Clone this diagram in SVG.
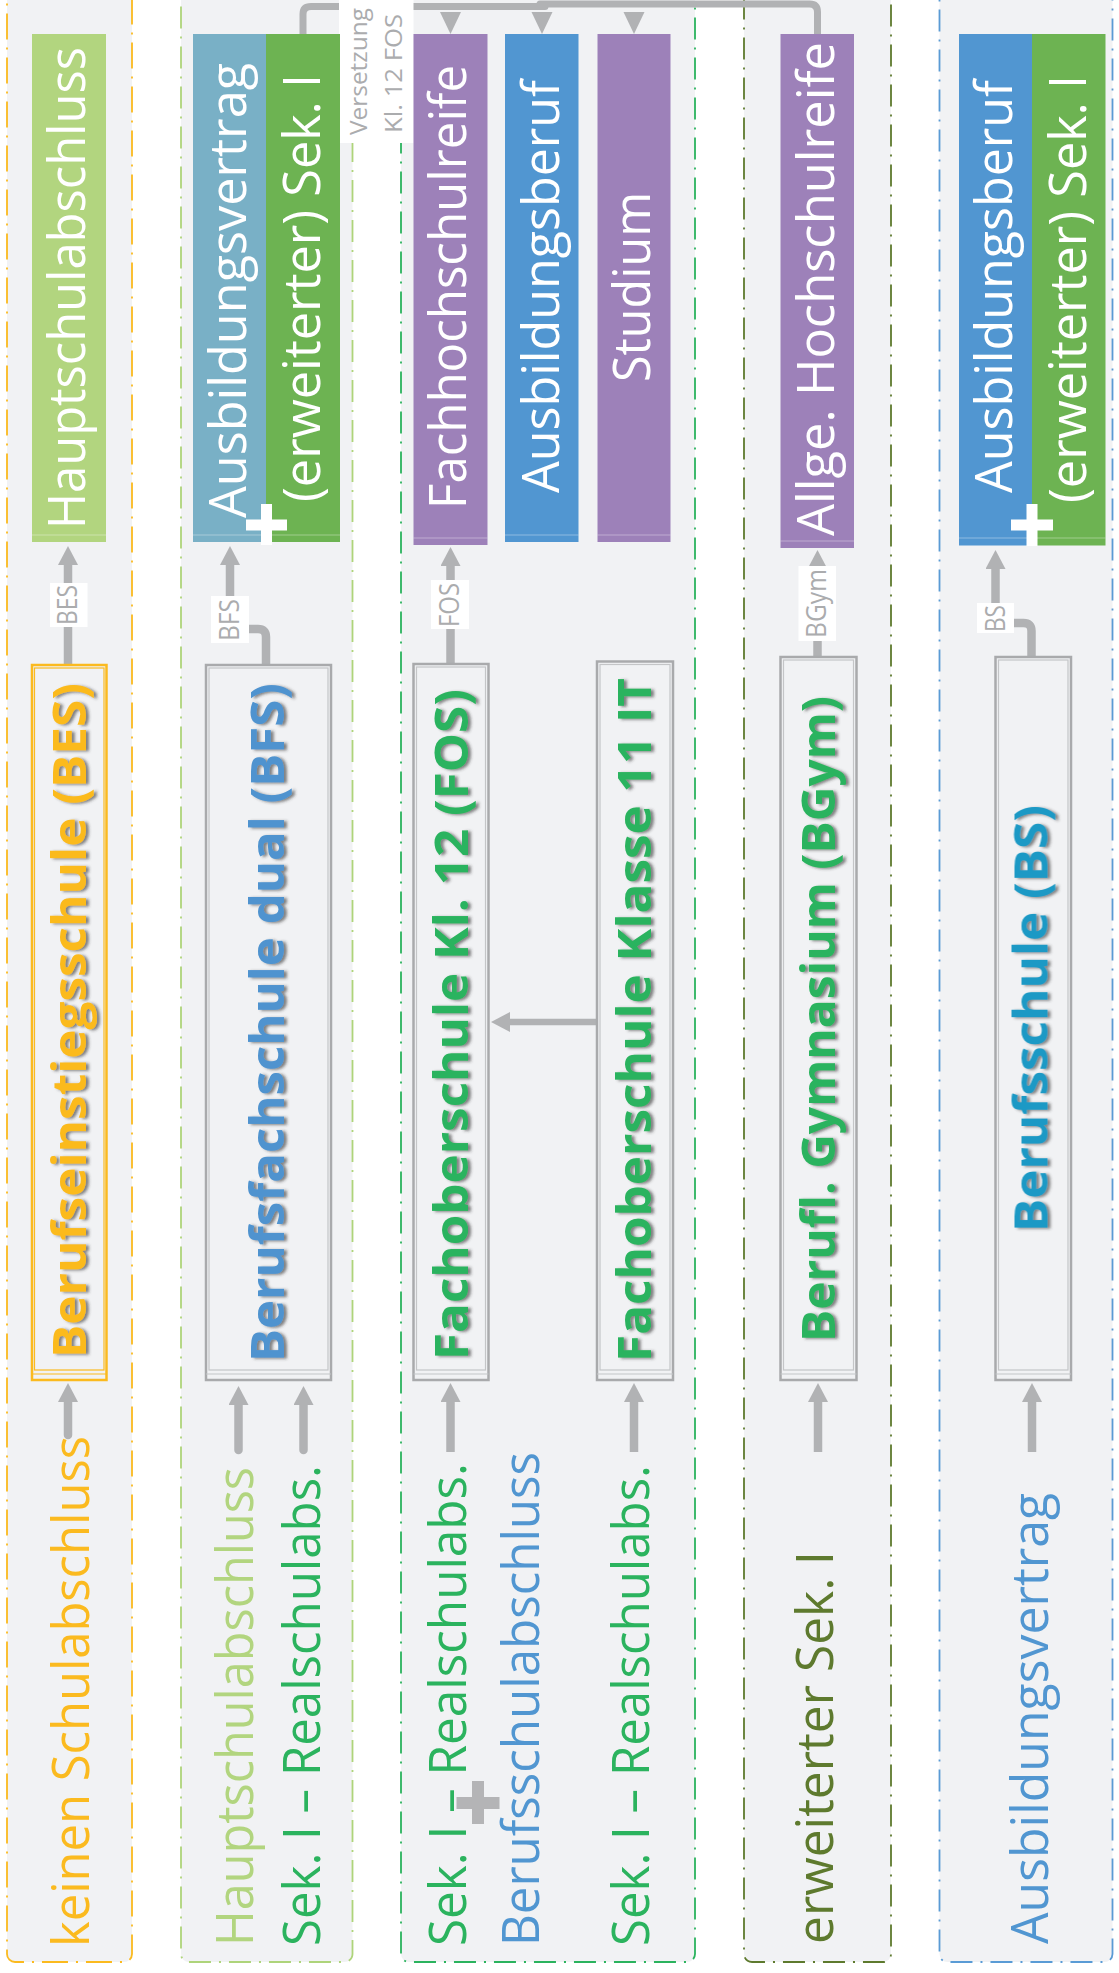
<svg xmlns="http://www.w3.org/2000/svg" width="1119" height="1973" viewBox="0 0 1119 1973">
<defs>
<style>
.lane{fill:#F1F2F4;stroke-width:1.8;stroke-dasharray:22 8 2 8}
.t{font-family:"Open Sans","Noto Sans","Liberation Sans",sans-serif;font-size:52px;font-weight:400}
.w{fill:#FFFFFF}
.b{font-family:"Open Sans","Noto Sans","Liberation Sans",sans-serif;font-size:47px;font-weight:700;filter:url(#sh)}
.sbox{fill:none;stroke:#A9AAAC;stroke-width:2.5}
.sin{fill:none;stroke:#C4C5C7;stroke-width:1.2}
.con{fill:none;stroke:#B1B2B4;stroke-width:8.5}
.top{fill:none;stroke:#B1B2B4;stroke-width:7;stroke-linecap:round}
.ahd{fill:#B1B2B4}
.lbl{fill:#FFFFFF}
.lt{font-family:"Open Sans","Noto Sans","Liberation Sans",sans-serif;font-size:27px;font-weight:400;fill:#ABACAE}
.band{stroke:#FFFFFF;stroke-opacity:0.35;stroke-width:1.2}
</style>
<filter id="sh" x="-5%" y="-40%" width="110%" height="180%">
<feDropShadow dx="-1" dy="3" stdDeviation="1.4" flood-color="#333333" flood-opacity="0.6"/>
</filter>
<marker id="ah" markerUnits="userSpaceOnUse" markerWidth="20" markerHeight="20" viewBox="0 0 20 20" refX="1" refY="10" orient="auto">
<path d="M0,0 L19,10 L0,20 Z" fill="#B1B2B4"/>
</marker>
<marker id="ah2" markerUnits="userSpaceOnUse" markerWidth="20" markerHeight="20" viewBox="0 0 20 20" refX="1" refY="10" orient="auto">
<path d="M0,0 L19,10 L0,20 Z" fill="#B1B2B4"/>
</marker>
</defs>
<rect x="0" y="0" width="1119" height="1973" fill="#FFFFFF"/>

<g id="lanes">
<rect id="lane1" class="lane" x="7" y="-20" width="125" height="1982" rx="8" stroke="#FBBA1F" style="stroke-dasharray:26 8 2 8"/>
<rect id="lane2" class="lane" x="181" y="-20" width="171.5" height="1982" rx="8" stroke="#AED47A"/>
<rect id="lane3" class="lane" x="401" y="-20" width="294" height="1982" rx="8" stroke="#2BB35E"/>
<rect id="lane4" class="lane" x="744" y="-20" width="147" height="1982" rx="8" stroke="#5E7A2E"/>
<rect id="lane5" class="lane" x="939.5" y="-20" width="173" height="1982" rx="8" stroke="#5A9BD5"/>
</g>

<g id="connectors">
<path class="top" d="M303,34 V14 Q303,6.5 311,6.5 H545"/>
<path class="top" d="M817.5,34 V12 Q817.5,4 809.5,4 H540"/>
<polygon class="ahd" points="440,12 461,12 450.5,34"/>
<polygon class="ahd" points="531.5,12 552.5,12 542,34"/>
<polygon class="ahd" points="623.5,12 644.5,12 634,34"/>

<path class="con" d="M68,665 V564" marker-end="url(#ah)"/>
<path class="con" d="M266,665 V637 Q266,629 258,629 H238 Q230,629 230,621 V564" marker-end="url(#ah)"/>
<path class="con" d="M450.5,664 V565" marker-end="url(#ah)"/>
<path class="con" d="M817.5,657 V568" marker-end="url(#ah)"/>
<path class="con" d="M1031.5,657 V631 Q1031.5,623 1023.5,623 H1003 Q995.5,623 995.5,615 V568" marker-end="url(#ah)"/>

<path class="con" d="M68,1435 V1401" stroke-linecap="round" marker-end="url(#ah)"/>
<path class="con" d="M238.5,1450 V1404" stroke-linecap="round" marker-end="url(#ah)"/>
<path class="con" d="M303.5,1450 V1404" stroke-linecap="round" marker-end="url(#ah)"/>
<path class="con" d="M450.5,1452 V1401" marker-end="url(#ah)"/>
<path class="con" d="M634,1452 V1401" marker-end="url(#ah)"/>
<path class="con" d="M818,1452 V1401" marker-end="url(#ah)"/>
<path class="con" d="M1032,1452 V1401" marker-end="url(#ah)"/>

<path class="con" style="stroke-width:6.5" d="M597,1022 H509" marker-end="url(#ah2)"/>

<rect class="lbl" x="50" y="583" width="37.5" height="44"/>
<text class="lt" transform="translate(77,625) rotate(-90)" textLength="40" lengthAdjust="spacingAndGlyphs">BES</text>
<rect class="lbl" x="211" y="596" width="38" height="47"/>
<text class="lt" transform="translate(239,641) rotate(-90)" textLength="42" lengthAdjust="spacingAndGlyphs">BFS</text>
<rect class="lbl" x="431" y="580" width="38" height="49"/>
<text class="lt" transform="translate(459,627) rotate(-90)" textLength="44" lengthAdjust="spacingAndGlyphs">FOS</text>
<rect class="lbl" x="798.5" y="566" width="37.5" height="75"/>
<text class="lt" transform="translate(826,638) rotate(-90)" textLength="69" lengthAdjust="spacingAndGlyphs">BGym</text>
<rect class="lbl" x="977" y="603" width="37" height="30"/>
<text class="lt" transform="translate(1005,632) rotate(-90)" textLength="27" lengthAdjust="spacingAndGlyphs">BS</text>

<rect class="lbl" x="339" y="0" width="74.5" height="143"/>
<text class="lt" style="font-size:24.5px" transform="translate(367,135) rotate(-90)" textLength="127" lengthAdjust="spacingAndGlyphs">Versetzung</text>
<text class="lt" style="font-size:24.5px" transform="translate(401.5,133) rotate(-90)" textLength="119" lengthAdjust="spacingAndGlyphs">Kl. 12 FOS</text>
</g>

<g id="n-hauptschulabschluss-top">
<rect x="32" y="34" width="74" height="508" fill="#B2D57F"/>
<line class="band" x1="32" y1="535" x2="106" y2="535"/>
<text class="t w" transform="translate(85,529) rotate(-90)" textLength="482" lengthAdjust="spacingAndGlyphs">Hauptschulabschluss</text>
</g>
<g id="n-ausbildungsvertrag-top">
<rect x="193" y="34" width="73" height="508" fill="#79B0C6"/>
<line class="band" x1="193" y1="535" x2="266" y2="535"/>
<text class="t w" transform="translate(246,518) rotate(-90)" textLength="455" lengthAdjust="spacingAndGlyphs">Ausbildungsvertrag</text>
</g>
<g id="n-sek1-lane2">
<rect x="266" y="34" width="74" height="508" fill="#6DB352"/>
<line class="band" x1="266" y1="535" x2="340" y2="535"/>
<text class="t w" transform="translate(320,502) rotate(-90)" textLength="428" lengthAdjust="spacingAndGlyphs">(erweiterter) Sek. I</text>
<path d="M246,525 H287 M266.5,504 V545" stroke="#FFFFFF" stroke-width="11" fill="none"/>
</g>
<g id="n-fachhochschulreife">
<rect x="413.5" y="34" width="74" height="511" fill="#9D81B9"/>
<line class="band" x1="413.5" y1="538" x2="487.5" y2="538"/>
<text class="t w" transform="translate(466,509) rotate(-90)" textLength="444" lengthAdjust="spacingAndGlyphs">Fachhochschulreife</text>
</g>
<g id="n-ausbildungsberuf-lane3">
<rect x="505" y="34" width="73.5" height="508" fill="#5196D1"/>
<line class="band" x1="505" y1="535" x2="578.5" y2="535"/>
<text class="t w" transform="translate(559,493) rotate(-90)" textLength="413" lengthAdjust="spacingAndGlyphs">Ausbildungsberuf</text>
</g>
<g id="n-studium">
<rect x="597.5" y="34" width="73" height="508" fill="#9D81B9"/>
<line class="band" x1="597.5" y1="535" x2="670.5" y2="535"/>
<text class="t w" transform="translate(650,382) rotate(-90)" textLength="190" lengthAdjust="spacingAndGlyphs">Studium</text>
</g>
<g id="n-allge-hochschulreife">
<rect x="780.5" y="34" width="73.5" height="514" fill="#9D81B9"/>
<line class="band" x1="780.5" y1="541" x2="854" y2="541"/>
<text class="t w" transform="translate(833.5,536) rotate(-90)" textLength="494" lengthAdjust="spacingAndGlyphs">Allge. Hochschulreife</text>
</g>
<g id="n-ausbildungsberuf-lane5">
<rect x="959" y="34" width="73" height="511.5" fill="#5196D1"/>
<line class="band" x1="959" y1="538" x2="1032" y2="538"/>
<text class="t w" transform="translate(1012,493) rotate(-90)" textLength="413" lengthAdjust="spacingAndGlyphs">Ausbildungsberuf</text>
</g>
<g id="n-sek1-lane5">
<rect x="1032" y="34" width="73.5" height="511.5" fill="#6DB352"/>
<line class="band" x1="1032" y1="538" x2="1105.5" y2="538"/>
<text class="t w" transform="translate(1085.5,503) rotate(-90)" textLength="428" lengthAdjust="spacingAndGlyphs">(erweiterter) Sek. I</text>
<path d="M1011,525 H1053 M1032,504 V546" stroke="#FFFFFF" stroke-width="11" fill="none"/>
</g>

<g id="n-bes">
<rect class="sbox" x="32" y="665" width="74.5" height="715" style="stroke:#FBBA1F"/>
<rect class="sin" x="34.5" y="668" width="69.5" height="702" style="stroke:#FBBA1F"/>
<line x1="32" y1="1374" x2="106.5" y2="1374" stroke="#FBBA1F" stroke-width="1.2"/>
<text class="b" fill="#FBBA1F" transform="translate(86,1358) rotate(-90)" textLength="675" lengthAdjust="spacingAndGlyphs">Berufseinstiegsschule (BES)</text>
</g>
<g id="n-bfs">
<rect class="sbox" x="206" y="665" width="125" height="715"/>
<rect class="sin" x="209" y="668" width="119" height="702"/>
<line x1="206" y1="1374" x2="331" y2="1374" stroke="#C4C5C7" stroke-width="1.2"/>
<text class="b" fill="#4F93CF" transform="translate(284,1362) rotate(-90)" textLength="679" lengthAdjust="spacingAndGlyphs">Berufsfachschule dual (BFS)</text>
</g>
<g id="n-fos">
<rect class="sbox" x="413.5" y="664" width="75" height="716"/>
<rect class="sin" x="416.5" y="667" width="69" height="703"/>
<line x1="413.5" y1="1374" x2="488.5" y2="1374" stroke="#C4C5C7" stroke-width="1.2"/>
<text class="b" fill="#2BB35E" transform="translate(468,1360) rotate(-90)" textLength="671" lengthAdjust="spacingAndGlyphs">Fachoberschule Kl. 12 (FOS)</text>
</g>
<g id="n-fos11">
<rect class="sbox" x="597" y="661.5" width="76" height="718.5"/>
<rect class="sin" x="600" y="664.5" width="70" height="705.5"/>
<line x1="597" y1="1374" x2="673" y2="1374" stroke="#C4C5C7" stroke-width="1.2"/>
<text class="b" fill="#2BB35E" transform="translate(651,1362) rotate(-90)" textLength="684" lengthAdjust="spacingAndGlyphs">Fachoberschule Klasse 11 IT</text>
</g>
<g id="n-bgym">
<rect class="sbox" x="780.5" y="657" width="76" height="723"/>
<rect class="sin" x="783.5" y="660" width="70" height="710"/>
<line x1="780.5" y1="1374" x2="856.5" y2="1374" stroke="#C4C5C7" stroke-width="1.2"/>
<text class="b" fill="#2BB35E" transform="translate(835,1342) rotate(-90)" textLength="646" lengthAdjust="spacingAndGlyphs">Berufl. Gymnasium (BGym)</text>
</g>
<g id="n-bs">
<rect class="sbox" x="995.5" y="657" width="75.5" height="723"/>
<rect class="sin" x="998.5" y="660" width="69.5" height="710"/>
<line x1="995.5" y1="1374" x2="1071" y2="1374" stroke="#C4C5C7" stroke-width="1.2"/>
<text class="b" fill="#1A99C5" transform="translate(1047.5,1232) rotate(-90)" textLength="427" lengthAdjust="spacingAndGlyphs">Berufsschule (BS)</text>
</g>

<g id="n-keinen">
<text class="t" fill="#FBBA1F" transform="translate(89,1947) rotate(-90)" textLength="511" lengthAdjust="spacingAndGlyphs">keinen Schulabschluss</text>
</g>
<g id="n-hauptschulabschluss-in">
<text class="t" fill="#B2D57F" transform="translate(253,1946) rotate(-90)" textLength="479" lengthAdjust="spacingAndGlyphs">Hauptschulabschluss</text>
</g>
<g id="n-sek1-bfs">
<text class="t" fill="#2BB35E" transform="translate(320,1946) rotate(-90)" textLength="481" lengthAdjust="spacingAndGlyphs">Sek. I – Realschulabs.</text>
</g>
<g id="n-sek1-fos">
<text class="t" fill="#2BB35E" transform="translate(466,1946) rotate(-90)" textLength="483" lengthAdjust="spacingAndGlyphs">Sek. I – Realschulabs.</text>
<path d="M456.5,1803 H499.5 M478,1781 V1824" stroke="#B4B4B6" stroke-width="12" fill="none"/>
<text class="t" fill="#5196D1" transform="translate(538.5,1946) rotate(-90)" textLength="494" lengthAdjust="spacingAndGlyphs">Berufsschulabschluss</text>
</g>
<g id="n-sek1-fos11">
<text class="t" fill="#2BB35E" transform="translate(649,1946) rotate(-90)" textLength="481" lengthAdjust="spacingAndGlyphs">Sek. I – Realschulabs.</text>
</g>
<g id="n-erweiterter">
<text class="t" fill="#5E7A2E" transform="translate(833,1944) rotate(-90)" textLength="393" lengthAdjust="spacingAndGlyphs">erweiterter Sek. I</text>
</g>
<g id="n-ausbildungsvertrag-in">
<text class="t" fill="#5196D1" transform="translate(1047.5,1944) rotate(-90)" textLength="451" lengthAdjust="spacingAndGlyphs">Ausbildungsvertrag</text>
</g>
</svg>
